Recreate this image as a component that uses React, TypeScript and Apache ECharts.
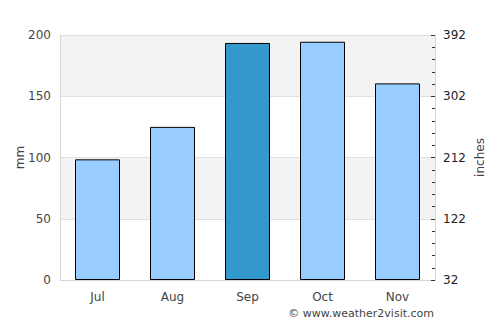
import React, { useEffect, useRef } from "react";
import * as echarts from "echarts";

const months = ["Jul", "Aug", "Sep", "Oct", "Nov"];
const rainfallMm = [98.5, 125, 193.5, 194.5, 160.5];
const highlightIndex = 2;
const rightTickLabels = ["32", "122", "212", "302", "392"];

export default function App() {
  const ref = useRef<HTMLDivElement>(null);
  useEffect(() => {
    document.body.style.margin = "0";
    const chart = echarts.init(ref.current!, null, { renderer: "svg" });
    const font = "DejaVu Sans";
    chart.setOption({
      animation: false,
      textStyle: { fontFamily: font },
      grid: { left: 60, right: 65, top: 35, bottom: 45, containLabel: false, outerBoundsMode: "none" },
      xAxis: {
        type: "category",
        data: months,
        axisLine: { show: true, lineStyle: { color: "#d6d6d6" } },
        axisTick: { show: false },
        axisLabel: { color: "#444", fontSize: 12, margin: 11, fontFamily: font },
      },
      yAxis: [
        {
          type: "value",
          min: 0,
          max: 200,
          interval: 50,
          name: "mm",
          nameLocation: "middle",
          nameGap: 34,
          nameRotate: 90,
          nameMoveOverlap: false,
          nameTextStyle: { color: "#444", fontSize: 12, fontFamily: font },
          axisLine: { show: true, lineStyle: { color: "#d6d6d6" } },
          axisTick: { show: false },
          axisLabel: { color: "#444", fontSize: 12, margin: 9, fontFamily: font },
          splitLine: { show: true, lineStyle: { color: "#e0e0e0" } },
          splitArea: { show: true, areaStyle: { color: ["#ffffff", "#f3f3f3"] } },
        },
        {
          type: "value",
          position: "right",
          min: 0,
          max: 360,
          interval: 90,
          name: "inches",
          nameLocation: "middle",
          nameGap: 39,
          nameRotate: 90,
          nameMoveOverlap: false,
          nameTextStyle: { color: "#444", fontSize: 12, fontFamily: font },
          axisLine: { show: true, lineStyle: { color: "#d6d6d6" } },
          axisTick: { show: true, inside: true, length: 4, lineStyle: { color: "#333" } },
          minorTick: { show: true, splitNumber: 5, length: 3, lineStyle: { color: "#333" } },
          axisLabel: {
            color: "#222",
            fontSize: 12,
            margin: 8,
            fontFamily: font,
            formatter: (v: number) => rightTickLabels[Math.round(v / 90)] ?? "",
          },
          splitLine: { show: false },
        },
      ],
      series: [
        {
          type: "bar",
          yAxisIndex: 0,
          barWidth: "60%",
          data: rainfallMm.map((v, i) => ({
            value: v,
            itemStyle: { color: i === highlightIndex ? "#3399cc" : "#99ccff" },
          })),
          itemStyle: { borderColor: "#000", borderWidth: 1 },
        },
      ],
      graphic: [
        {
          type: "text",
          right: 66,
          top: 308,
          style: {
            text: "© www.weather2visit.com",
            fill: "#444",
            fontSize: 11,
            fontFamily: font,
          },
        },
      ],
    });
    return () => chart.dispose();
  }, []);
  return <div ref={ref} style={{ width: 500, height: 325 }} />;
}
